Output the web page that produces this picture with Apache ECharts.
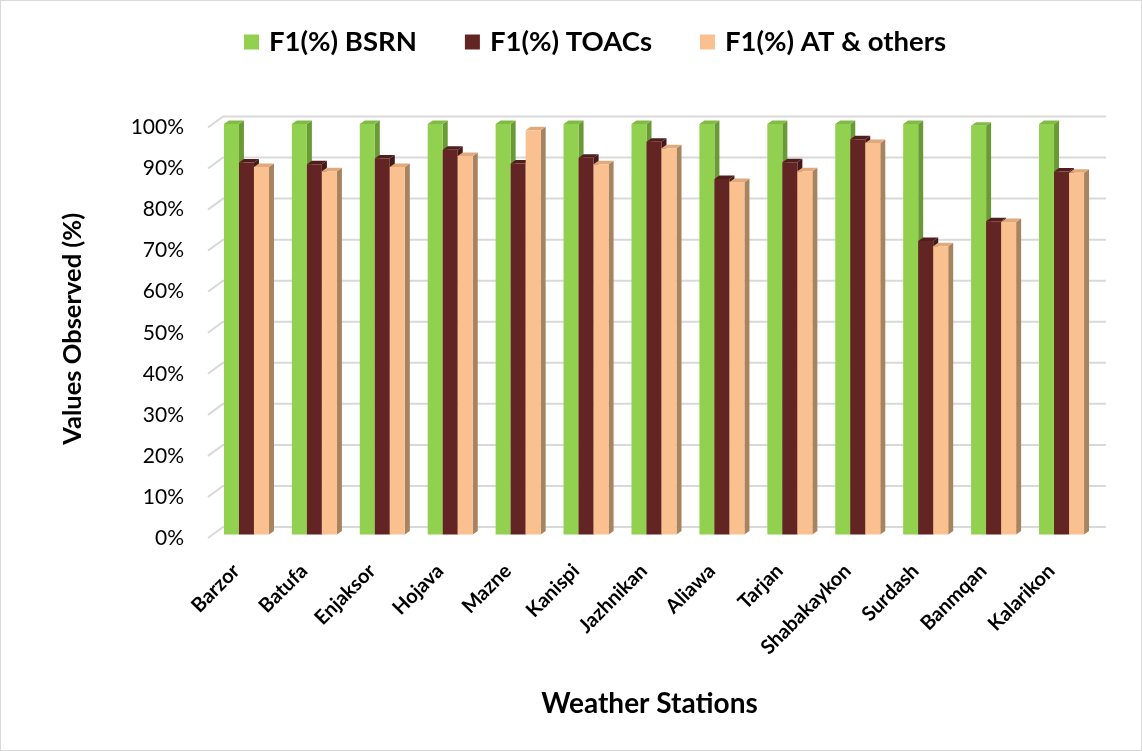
<!DOCTYPE html>
<html>
<head>
<meta charset="utf-8">
<title>F1 by Weather Station</title>
<script src="https://cdn.jsdelivr.net/npm/echarts@6/dist/echarts.min.js"></script>
<style>
  html, body { margin: 0; padding: 0; background: #fff; }
  #chart { width: 1142px; height: 751px; box-sizing: border-box; border: 1px solid #d9d9d9; }
</style>
</head>
<body>
<div id="chart"></div>
<script>
// Station names along the category axis
const categories = ['Barzor', 'Batufa', 'Enjaksor', 'Hojava', 'Mazne', 'Kanispi', 'Jazhnikan',
  'Aliawa', 'Tarjan', 'Shabakaykon', 'Surdash', 'Banmqan', 'Kalarikon'];

// F1 scores (%) per station
const bsrn     = [100, 100, 100, 100, 100, 100, 100, 100, 100, 100, 100, 99.6, 100];
const toacs    = [90.6, 90.2, 91.6, 93.7, 90.4, 91.8, 95.7, 86.6, 90.7, 96.3, 71.5, 76.3, 88.4];
const atOthers = [89.5, 88.5, 89.5, 92.2, 98.5, 90.2, 94.1, 85.9, 88.5, 95.4, 70.2, 76.1, 88.1];

// Value axis ticks (%)
const yTicks = [0, 10, 20, 30, 40, 50, 60, 70, 80, 90, 100];

const seriesNames = ['F1(%) BSRN', 'F1(%) TOACs', 'F1(%) AT & others'];
// front / side / top face colours for the pseudo-3D columns
const palette = [
  { front: '#92d050', side: '#6a9a36', top: '#7fbb45' },
  { front: '#632523', side: '#461817', top: '#521e1c' },
  { front: '#fac090', side: '#a8835f', top: '#e0aa7c' }
];

// perspective offsets (px): columns sit a little behind the front plane,
// the back wall sits at full depth
const COL_SHIFT = [4.5, -3.5];
const COL_DEPTH = [5, -3.5];
const WALL_DEPTH = [15, -11];

function columnRenderer(seriesIdx) {
  return function (params, api) {
    const ci = api.value(0);
    const v = api.value(1);
    const base = api.coord([ci, 0]);
    const top = api.coord([ci, v]);
    const band = api.size([1, 0])[0];
    const w = band * 0.221;
    const x0 = base[0] - 1.5 * w + seriesIdx * w + COL_SHIFT[0];
    const yT = top[1] + COL_SHIFT[1];
    const yB = base[1] + COL_SHIFT[1];
    const dx = COL_DEPTH[0], dy = COL_DEPTH[1];
    const c = palette[seriesIdx];
    return {
      type: 'group',
      children: [
        { type: 'polygon', shape: { points: [[x0 + w, yT], [x0 + w + dx, yT + dy], [x0 + w + dx, yB + dy], [x0 + w, yB]] },
          style: { fill: c.side } },
        { type: 'polygon', shape: { points: [[x0, yT], [x0 + dx, yT + dy], [x0 + w + dx, yT + dy], [x0 + w, yT]] },
          style: { fill: c.top } },
        { type: 'rect', shape: { x: x0, y: yT, width: w, height: yB - yT },
          style: { fill: c.front } }
      ]
    };
  };
}

function wallRenderer(params, api) {
  const v = api.value(1);
  const p = api.coord([0, v]);
  const cs = params.coordSys;
  const left = cs.x, right = cs.x + cs.width;
  return {
    type: 'polyline',
    shape: { points: [[left, p[1]], [left + WALL_DEPTH[0], p[1] + WALL_DEPTH[1]], [right + WALL_DEPTH[0], p[1] + WALL_DEPTH[1]]] },
    style: { stroke: '#d9d9d9', lineWidth: 2, fill: null }
  };
}

const seriesData = [bsrn, toacs, atOthers];

const chart = echarts.init(document.getElementById('chart'), null, { renderer: 'canvas' });
chart.setOption({
  animation: false,
  backgroundColor: '#fff',
  textStyle: { fontFamily: 'Lato' },
  legend: {
    top: 27,
    left: 243,
    padding: 0,
    itemWidth: 15,
    itemHeight: 15,
    itemGap: 48,
    icon: 'rect',
    textStyle: { fontFamily: 'Lato', fontWeight: 'bold', fontSize: 27.5, color: '#000', padding: [0, 0, 0, 5] },
    data: seriesNames
  },
  grid: { left: 207, top: 126.5, width: 883, height: 410.5, containLabel: false },
  xAxis: {
    type: 'category',
    data: categories,
    name: 'Weather Stations',
    nameLocation: 'middle',
    nameGap: 152,
    nameTextStyle: { fontFamily: 'Lato', fontWeight: 'bold', fontSize: 28, color: '#000' },
    axisLine: { show: false },
    axisTick: { show: false },
    axisLabel: { rotate: 45, margin: 24, fontFamily: 'Lato', fontWeight: 'bold', fontSize: 20, color: '#000', interval: 0, padding: [0, 8, 0, 0] },
    splitLine: { show: false }
  },
  yAxis: {
    type: 'value',
    min: 0,
    max: 100,
    interval: 10,
    name: 'Values Observed (%)',
    nameLocation: 'middle',
    nameGap: 122,
    nameTextStyle: { fontFamily: 'Lato', fontWeight: 'bold', fontSize: 25.5, color: '#000', padding: [0, 0, 0, 8] },
    axisLine: { show: false },
    axisTick: { show: false },
    splitLine: { show: false },
    axisLabel: { margin: 24, fontFamily: 'Lato', fontSize: 21, color: '#000', formatter: '{value}%', padding: [2, 0, 0, 0] }
  },
  series: [
    {
      type: 'custom',
      name: 'wall',
      silent: true,
      z: 1,
      renderItem: wallRenderer,
      data: yTicks.map(v => [0, v])
    }
  ].concat(seriesData.map((vals, s) => ({
    type: 'custom',
    name: seriesNames[s],
    z: 2 + s,
    itemStyle: { color: palette[s].front },
    renderItem: columnRenderer(s),
    encode: { x: 0, y: 1 },
    data: vals.map((v, i) => [i, v])
  })))
});
</script>
</body>
</html>
